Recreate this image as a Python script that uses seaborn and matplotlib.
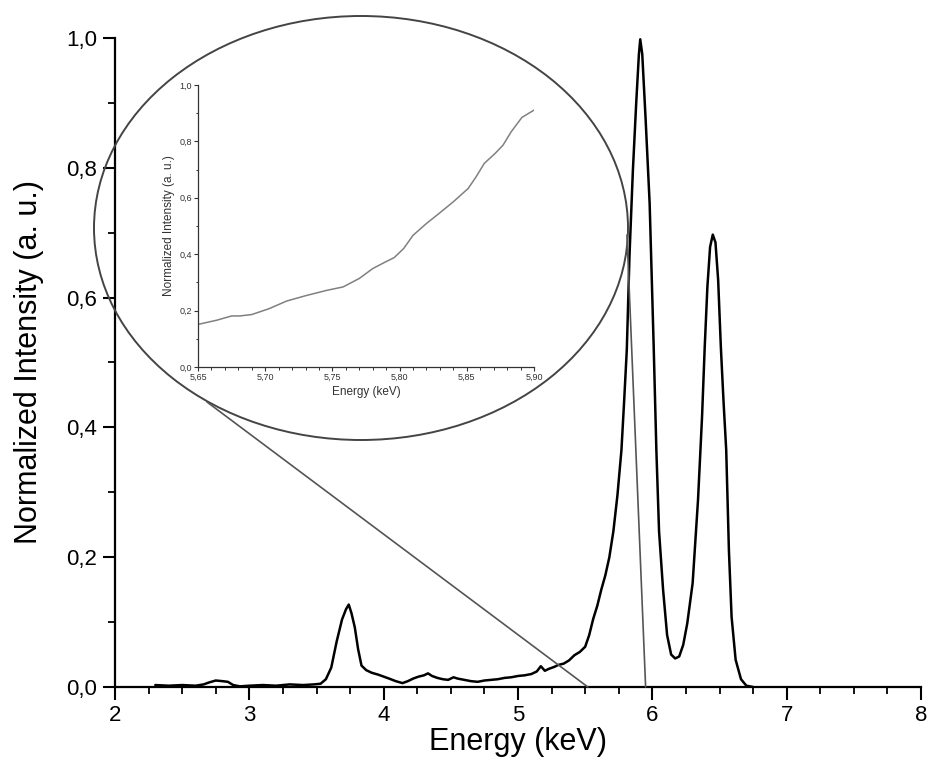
import matplotlib
matplotlib.use("Agg")
import numpy as np
import pandas as pd
import seaborn as sns
import matplotlib.pyplot as plt
from matplotlib.patches import Ellipse, ConnectionPatch
from matplotlib.ticker import MultipleLocator, FuncFormatter

# ---- main spectrum ----
energy = [2.30, 2.40, 2.50, 2.60, 2.66, 2.70, 2.75, 2.80, 2.84, 2.88, 2.93, 3.00, 3.10, 3.20,
          3.30, 3.40, 3.48, 3.53, 3.57, 3.61, 3.65, 3.69, 3.72, 3.74, 3.76, 3.785, 3.81, 3.835,
          3.87, 3.91, 3.96, 4.00, 4.04, 4.09, 4.14, 4.18, 4.22, 4.26, 4.30, 4.33, 4.36, 4.40,
          4.44, 4.48, 4.52, 4.55, 4.60, 4.65, 4.70, 4.75, 4.80, 4.85, 4.90, 4.95, 5.00, 5.05,
          5.10, 5.14, 5.17, 5.20, 5.23, 5.27, 5.30, 5.34, 5.38, 5.42, 5.46, 5.50, 5.53, 5.56,
          5.59, 5.62, 5.65, 5.68, 5.71, 5.74, 5.77, 5.79, 5.81, 5.83, 5.855, 5.88, 5.90, 5.91,
          5.925, 5.95, 5.98, 6.01, 6.03, 6.05, 6.08, 6.11, 6.14, 6.17, 6.20, 6.23, 6.26, 6.30,
          6.34, 6.37, 6.39, 6.41, 6.43, 6.45, 6.47, 6.49, 6.51, 6.53, 6.55, 6.57, 6.59, 6.62,
          6.66, 6.70, 6.75]
intensity = [0.003, 0.002, 0.003, 0.002, 0.004, 0.007, 0.010, 0.009, 0.008, 0.003, 0.001, 0.002,
             0.003, 0.002, 0.004, 0.003, 0.004, 0.005, 0.012, 0.030, 0.070, 0.104, 0.120, 0.127,
             0.114, 0.092, 0.058, 0.033, 0.026, 0.022, 0.019, 0.016, 0.013, 0.009, 0.006, 0.009,
             0.013, 0.016, 0.018, 0.021, 0.017, 0.014, 0.012, 0.011, 0.015, 0.013, 0.011, 0.009,
             0.008, 0.010, 0.011, 0.012, 0.014, 0.015, 0.017, 0.018, 0.020, 0.024, 0.032, 0.025,
             0.028, 0.031, 0.034, 0.036, 0.041, 0.049, 0.054, 0.062, 0.080, 0.105, 0.125, 0.150,
             0.172, 0.200, 0.240, 0.295, 0.365, 0.440, 0.520, 0.665, 0.795, 0.900, 0.975, 0.998,
             0.975, 0.875, 0.745, 0.525, 0.365, 0.240, 0.150, 0.080, 0.050, 0.044, 0.047, 0.065,
             0.098, 0.160, 0.288, 0.416, 0.524, 0.617, 0.678, 0.697, 0.685, 0.627, 0.524, 0.440,
             0.365, 0.211, 0.108, 0.042, 0.012, 0.002, 0.000]

# ---- inset (zoomed region) ----
inset_energy = [5.650, 5.664, 5.675, 5.681, 5.690, 5.703, 5.716, 5.731, 5.746, 5.758, 5.770,
                5.780, 5.788, 5.796, 5.803, 5.810, 5.820, 5.830, 5.840, 5.851, 5.857, 5.863,
                5.871, 5.877, 5.883, 5.891, 5.900]
inset_intensity = [0.151, 0.166, 0.181, 0.181, 0.186, 0.207, 0.234, 0.254, 0.272, 0.284, 0.314,
                   0.349, 0.369, 0.388, 0.420, 0.467, 0.509, 0.547, 0.586, 0.633, 0.675, 0.722,
                   0.757, 0.787, 0.834, 0.885, 0.911]

main_xticks = [2, 3, 4, 5, 6, 7, 8]
main_yticks = [0.0, 0.2, 0.4, 0.6, 0.8, 1.0]
inset_xticks = [5.65, 5.70, 5.75, 5.80, 5.85, 5.90]
inset_yticks = [0.0, 0.2, 0.4, 0.6, 0.8, 1.0]
zoom_line_ends = [5.52, 5.95]

df_main = pd.DataFrame({"Energy": energy, "Intensity": intensity})
df_inset = pd.DataFrame({"Energy": inset_energy, "Intensity": inset_intensity})

sns.set_theme(style="ticks")
plt.rcParams['font.family'] = ['Liberation Sans', 'DejaVu Sans']
plt.rcParams['axes.linewidth'] = 1.6
plt.rcParams['text.color'] = 'black'
plt.rcParams['axes.labelcolor'] = 'black'
plt.rcParams['axes.edgecolor'] = 'black'

W, H = 930, 762
fig = plt.figure(figsize=(W / 100, H / 100), dpi=100)
fig.patch.set_facecolor('white')

x0, x1 = 115, 921
ax = fig.add_axes([x0 / W, 75 / H, (x1 - x0) / W, 649 / H])
sns.lineplot(data=df_main, x="Energy", y="Intensity", ax=ax, color='black', lw=1.8,
             estimator=None, sort=False)
for ln in ax.lines:
    ln.set_clip_on(False)
ax.set_xlim(2, 8)
ax.set_ylim(0, 1.0)
ax.set_xticks(main_xticks)
ax.set_yticks(main_yticks)
ax.xaxis.set_minor_locator(MultipleLocator(0.25))
ax.yaxis.set_minor_locator(MultipleLocator(0.1))
ax.xaxis.set_major_formatter(FuncFormatter(lambda v, p: f"{v:.0f}"))
ax.yaxis.set_major_formatter(FuncFormatter(lambda v, p: f"{v:.1f}".replace('.', ',')))
sns.despine(ax=ax)
ax.tick_params(axis='both', which='major', length=9, width=1.5, direction='out',
               labelsize=16, pad=4, colors='black')
ax.tick_params(axis='both', which='minor', length=5, width=1.3, direction='out',
               colors='black')
ax.set_xlabel("Energy (keV)", fontsize=22, labelpad=1, color='black')
ax.set_ylabel("Normalized Intensity (a. u.)", fontsize=22, labelpad=16, color='black')
ax.patch.set_alpha(0)

# inset
ax2 = fig.add_axes([198 / W, (H - 367) / H, 336 / W, 282 / H])
sns.lineplot(data=df_inset, x="Energy", y="Intensity", ax=ax2, color='#808080', lw=1.1,
             estimator=None, sort=False)
ax2.set_xlim(5.65, 5.90)
ax2.set_ylim(0, 1.0)
ax2.set_xticks(inset_xticks)
ax2.set_yticks(inset_yticks)
ax2.xaxis.set_minor_locator(MultipleLocator(0.01))
ax2.yaxis.set_minor_locator(MultipleLocator(0.1))
ax2.xaxis.set_major_formatter(FuncFormatter(lambda v, p: f"{v:.2f}".replace('.', ',')))
ax2.yaxis.set_major_formatter(FuncFormatter(lambda v, p: f"{v:.1f}".replace('.', ',')))
sns.despine(ax=ax2)
for s in ax2.spines.values():
    s.set_linewidth(0.9)
    s.set_color('#333333')
ax2.tick_params(axis='both', which='major', length=3, width=0.8, direction='out',
                labelsize=6.5, pad=1.5, colors='#333333')
ax2.tick_params(axis='both', which='minor', length=1.8, width=0.7, direction='out',
                colors='#333333')
ax2.set_xlabel("Energy (keV)", fontsize=8.5, color='#333333', labelpad=3)
ax2.set_ylabel("Normalized Intensity (a. u.)", fontsize=8.5, color='#333333', labelpad=3)
ax2.patch.set_alpha(0)

# ellipse magnifier
ell = Ellipse((361 / W, 1 - 228 / H), 534 / W, 424 / H, transform=fig.transFigure,
              fill=False, ec='#444444', lw=1.4, zorder=5)
fig.add_artist(ell)

starts = [(207 / W, 1 - 402 / H), (627 / W, 1 - 235 / H)]
for (sx, sy), ex in zip(starts, zoom_line_ends):
    cp = ConnectionPatch(xyA=(sx, sy), coordsA=fig.transFigure,
                         xyB=(ex, 0), coordsB=ax.transData,
                         color='#555555', lw=1.2, zorder=5)
    fig.add_artist(cp)

fig.savefig("out.png", dpi=100, facecolor='white')
